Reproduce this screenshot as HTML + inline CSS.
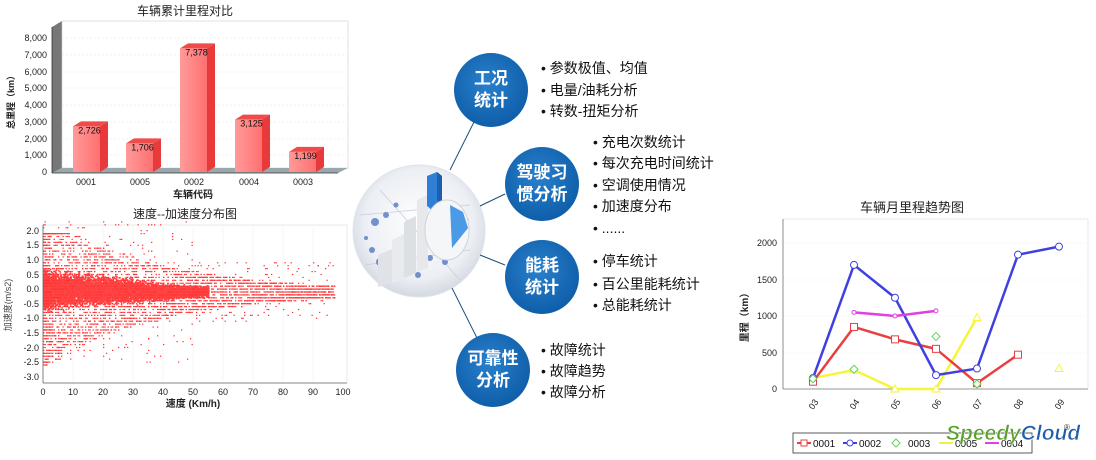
<!DOCTYPE html>
<html><head><meta charset="utf-8">
<style>
html,body{margin:0;padding:0;background:#fff;}
svg{display:block;}
text{font-family:"Liberation Sans","Noto Sans CJK SC",sans-serif;}
</style></head>
<body>
<svg id="s" width="1096" height="460" viewBox="0 0 1096 460" xmlns="http://www.w3.org/2000/svg">
<defs>
<radialGradient id="bc" cx="45%" cy="40%" r="60%"><stop offset="0" stop-color="#2a80cc"/><stop offset="1" stop-color="#0f5ea9"/></radialGradient>
<radialGradient id="disc" cx="50%" cy="45%" r="55%"><stop offset="0" stop-color="#ffffff"/><stop offset="0.75" stop-color="#eceff4"/><stop offset="1" stop-color="#d4d9e2"/></radialGradient>
<linearGradient id="bar" x1="0" x2="1"><stop offset="0" stop-color="#ff9a9a"/><stop offset="1" stop-color="#ff7070"/></linearGradient>
</defs>

<!-- BAR CHART -->
<text x="185" y="15" font-size="12" text-anchor="middle" fill="#222">车辆累计里程对比</text>
<polygon points="52,27 62,21 62,168 52,173" fill="#777"/>
<rect x="62" y="21" width="286" height="147" fill="#fff" stroke="#ccc" stroke-width="0.6"/>
<g stroke="#e4e4e4" stroke-dasharray="2,2" stroke-width="0.6">
<line x1="62" y1="38" x2="348" y2="38"/><line x1="62" y1="55" x2="348" y2="55"/><line x1="62" y1="72" x2="348" y2="72"/><line x1="62" y1="88" x2="348" y2="88"/><line x1="62" y1="105" x2="348" y2="105"/><line x1="62" y1="122" x2="348" y2="122"/><line x1="62" y1="139" x2="348" y2="139"/><line x1="62" y1="155" x2="348" y2="155"/>
</g>
<polygon points="52,173 62,168 348,168 338,173" fill="#9aa8ad"/>
<line x1="52" y1="27" x2="52" y2="173" stroke="#333" stroke-width="0.8"/>
<line x1="52" y1="173" x2="338" y2="173" stroke="#333" stroke-width="0.8"/>
<g font-size="9" fill="#222" text-anchor="end">
<text x="47" y="41">8,000</text><text x="47" y="58">7,000</text><text x="47" y="75">6,000</text><text x="47" y="91">5,000</text><text x="47" y="108">4,000</text><text x="47" y="125">3,000</text><text x="47" y="142">2,000</text><text x="47" y="158">1,000</text><text x="47" y="175">0</text>
</g>
<text transform="translate(14,100) rotate(-90)" font-size="9" font-weight="bold" text-anchor="middle" fill="#222">总里程（km）</text>
<g id="bars"></g>
<g font-size="9" fill="#222" text-anchor="middle">
<text x="86" y="185">0001</text><text x="140" y="185">0005</text><text x="194" y="185">0002</text><text x="249" y="185">0004</text><text x="303" y="185">0003</text>
</g>
<text x="193" y="198" font-size="10" font-weight="bold" text-anchor="middle" fill="#222">车辆代码</text>

<!-- SCATTER -->
<text x="185" y="218" font-size="12" text-anchor="middle" fill="#222">速度--加速度分布图</text>
<rect x="43" y="225" width="304" height="158" fill="#fff" stroke="#ddd" stroke-width="0.6"/>
<g stroke="#eee" stroke-width="0.5">
<line x1="73" y1="225" x2="73" y2="383"/><line x1="103" y1="225" x2="103" y2="383"/><line x1="133" y1="225" x2="133" y2="383"/><line x1="163" y1="225" x2="163" y2="383"/><line x1="193" y1="225" x2="193" y2="383"/><line x1="223" y1="225" x2="223" y2="383"/><line x1="253" y1="225" x2="253" y2="383"/><line x1="283" y1="225" x2="283" y2="383"/><line x1="313" y1="225" x2="313" y2="383"/>
</g>
<g id="sc"></g>
<line x1="43" y1="225" x2="43" y2="383" stroke="#666" stroke-width="0.8"/>
<line x1="43" y1="383" x2="347" y2="383" stroke="#666" stroke-width="0.8"/>
<g font-size="9" fill="#222" text-anchor="end">
<text x="39" y="234">2.0</text><text x="39" y="248">1.5</text><text x="39" y="263">1.0</text><text x="39" y="278">0.5</text><text x="39" y="292">0.0</text><text x="39" y="307">-0.5</text><text x="39" y="321">-1.0</text><text x="39" y="336">-1.5</text><text x="39" y="351">-2.0</text><text x="39" y="365">-2.5</text><text x="39" y="380">-3.0</text>
</g>
<text transform="translate(11,305) rotate(-90)" font-size="9" text-anchor="middle" fill="#444">加速度(m/s2)</text>
<g font-size="9" fill="#222" text-anchor="middle">
<text x="43" y="395">0</text><text x="73" y="395">10</text><text x="103" y="395">20</text><text x="133" y="395">30</text><text x="163" y="395">40</text><text x="193" y="395">50</text><text x="223" y="395">60</text><text x="253" y="395">70</text><text x="283" y="395">80</text><text x="313" y="395">90</text><text x="343" y="395">100</text>
</g>
<text x="193" y="407" font-size="10" font-weight="bold" text-anchor="middle" fill="#222">速度 (Km/h)</text>

<!-- CENTER DISC -->
<circle cx="419" cy="231" r="66" fill="url(#disc)" stroke="#e0e3e8" stroke-width="1"/>
<g stroke="#c9cfdb" stroke-width="0.8" fill="none">
<line x1="360" y1="215" x2="470" y2="205"/><line x1="365" y1="265" x2="470" y2="250"/><line x1="380" y1="190" x2="460" y2="280"/>
</g>
<g fill="#4a6fc0" opacity="0.75">
<circle cx="375" cy="222" r="4"/><circle cx="386" cy="215" r="3"/><circle cx="372" cy="250" r="3"/><circle cx="380" cy="262" r="4"/><circle cx="430" cy="258" r="3"/><circle cx="445" cy="262" r="3"/><circle cx="460" cy="245" r="2.5"/><circle cx="400" cy="273" r="2"/><circle cx="396" cy="205" r="2.5"/><circle cx="466" cy="220" r="2.5"/><circle cx="418" cy="275" r="3"/><circle cx="366" cy="238" r="2"/>
</g>
<polygon points="378,255 392,249 392,283 378,287" fill="#dfe2e7"/>
<polygon points="392,240 404,234 404,278 392,283" fill="#e8eaee"/>
<polygon points="404,222 416,216 416,273 404,278" fill="#dcdfe4"/>
<polygon points="417,200 428,195 428,268 417,272" fill="#e6e8ec"/>
<polygon points="427,176 437,172 442,176 442,205 432,210 427,206" fill="#2f7fd6"/>
<polygon points="437,172 442,176 442,205 437,200" fill="#1b5fb0"/>
<ellipse cx="447" cy="230" rx="22" ry="30" fill="#f5f6f8" stroke="#cfd3da"/>
<polygon points="450,205 463,212 468,228 452,248" fill="#4b9ae6"/>
<!-- connectors -->
<g stroke="#1f4e79" stroke-width="1">
<line x1="474" y1="122" x2="450" y2="170"/>
<line x1="505" y1="194" x2="480" y2="206"/>
<line x1="505" y1="265" x2="480" y2="255"/>
<line x1="478" y1="340" x2="452" y2="288"/>
</g>
<!-- blue circles -->
<g font-size="17" font-weight="bold" fill="#fff" text-anchor="middle">
<circle cx="491" cy="90" r="37" fill="url(#bc)"/>
<text x="491" y="84">工况</text><text x="491" y="106">统计</text>
<circle cx="542" cy="184" r="37" fill="url(#bc)"/>
<text x="542" y="178">驾驶习</text><text x="542" y="200">惯分析</text>
<circle cx="542" cy="277" r="37" fill="url(#bc)"/>
<text x="542" y="271">能耗</text><text x="542" y="293">统计</text>
<circle cx="493" cy="370" r="37" fill="url(#bc)"/>
<text x="493" y="364">可靠性</text><text x="493" y="386">分析</text>
</g>
<g font-size="14" fill="#111">
<text x="541" y="73">• 参数极值、均值</text>
<text x="541" y="95">• 电量/油耗分析</text>
<text x="541" y="116">• 转数-扭矩分析</text>
<text x="593" y="147">• 充电次数统计</text>
<text x="593" y="168">• 每次充电时间统计</text>
<text x="593" y="190">• 空调使用情况</text>
<text x="593" y="211">• 加速度分布</text>
<text x="593" y="233">• ......</text>
<text x="593" y="266">• 停车统计</text>
<text x="593" y="289">• 百公里能耗统计</text>
<text x="593" y="310">• 总能耗统计</text>
<text x="541" y="355">• 故障统计</text>
<text x="541" y="376">• 故障趋势</text>
<text x="541" y="397">• 故障分析</text>
</g>

<!-- LINE CHART -->
<text x="912" y="212" font-size="13" text-anchor="middle" fill="#222">车辆月里程趋势图</text>
<rect x="783" y="219" width="305" height="170" fill="#fff" stroke="#ddd" stroke-width="0.6"/>
<g stroke="#eee" stroke-dasharray="2,2" stroke-width="0.6">
<line x1="783" y1="243" x2="1088" y2="243"/><line x1="783" y1="280" x2="1088" y2="280"/><line x1="783" y1="316" x2="1088" y2="316"/><line x1="783" y1="353" x2="1088" y2="353"/>
</g>
<line x1="783" y1="219" x2="783" y2="389" stroke="#777" stroke-width="0.8"/>
<line x1="783" y1="389" x2="1088" y2="389" stroke="#777" stroke-width="0.8"/>
<g font-size="9" fill="#222" text-anchor="end">
<text x="777" y="246">2000</text><text x="777" y="283">1500</text><text x="777" y="319">1000</text><text x="777" y="356">500</text><text x="777" y="392">0</text>
</g>
<text transform="translate(748,315) rotate(-90)" font-size="10" font-weight="bold" text-anchor="middle" fill="#222">里程（km）</text>
<g font-size="9" fill="#222" text-anchor="middle" id="xl"></g>
<g id="lc"></g>
<rect x="793" y="433" width="239" height="20" fill="#fff" stroke="#333" stroke-width="0.8"/>
<g font-size="10" fill="#111" stroke-width="2">
<line x1="797" y1="443" x2="811" y2="443" stroke="#e84040"/><rect x="801" y="440" width="6" height="6" fill="#fff" stroke="#e84040" stroke-width="1"/><text x="813" y="447">0001</text>
<line x1="843" y1="443" x2="857" y2="443" stroke="#4040e0"/><circle cx="850" cy="443" r="3" fill="#fff" stroke="#4040e0" stroke-width="1"/><text x="859" y="447">0002</text>
<polygon points="896,439 900,443 896,447 892,443" fill="#fff" stroke="#5bd35b" stroke-width="1"/><text x="908" y="447">0003</text>
<line x1="939" y1="443" x2="953" y2="443" stroke="#f0f040"/><text x="955" y="447">0005</text>
<line x1="985" y1="443" x2="999" y2="443" stroke="#e040e0"/><text x="1001" y="447">0004</text>
</g>
<text x="946" y="440" font-size="21" font-weight="bold" font-style="italic" fill="#5aa02c" stroke="#fff" stroke-width="0.6">Speedy<tspan fill="#1f5fa8">Cloud</tspan></text>
<text x="1064" y="430" font-size="8" fill="#333">®</text>
</svg>
<script>
var NS="http://www.w3.org/2000/svg";
function el(p,t,a){var e=document.createElementNS(NS,t);for(var k in a)e.setAttribute(k,a[k]);p.appendChild(e);return e;}
var bg=document.getElementById("bars");
[[73,2726],[126,1706],[180,7378],[235,3125],[289,1199]].forEach(function(b){
 var x=b[0],w=27,y=172-b[1]*0.01675,d=8,u=5;
 el(bg,"polygon",{points:(x+w)+","+y+" "+(x+w+d)+","+(y-u)+" "+(x+w+d)+","+(172-u)+" "+(x+w)+",172",fill:"#e83a3a"});
 el(bg,"polygon",{points:x+","+y+" "+(x+d)+","+(y-u)+" "+(x+w+d)+","+(y-u)+" "+(x+w)+","+y,fill:"#f04a4a"});
 el(bg,"rect",{x:x,y:y,width:w,height:172-y,fill:"url(#bar)"});
 var t=el(bg,"text",{x:x+w/2+3,y:y+7,"font-size":9,"text-anchor":"middle",fill:"#111"});t.textContent=b[1].toLocaleString("en-US");
});
var sc=document.getElementById("sc");var seed=7;
function r(){seed=(seed*16807)%2147483647;return seed/2147483647;}
function g(){return (r()+r()+r()-1.5)/1.5;}
function X(v){return 43+v*3;}function Y(a){return 292-a*29.2;}
// dense cloud via many gaussian points
for(var i=0;i<9000;i++){
 var sp=Math.pow(r(),1.3)*55;
 var h=0.55*Math.max(0.15,1-sp/60)+0.1;
 var a=g()*h*1.3+ (sp<30?0.05:0);
 el(sc,"rect",{x:X(sp),y:Y(a)-0.8,width:1.6,height:1.6,fill:"#f44"});
}
for(var i=0;i<4200;i++){
 var sp=Math.pow(r(),1.6)*97;
 var spread=Math.max(0.25,2.6*Math.exp(-sp/38));
 var a=(r()*2-1)*spread; if(a>2)a=2; if(a<-2.9)a=-2.9+r()*0.1;
 if(r()<0.12){a=(r()*2-1)*(sp<50?2.4:1.0);}
 a=Math.round(a*10)/10;
 var s=Math.round(sp*2)/2;
 el(sc,"rect",{x:X(s),y:Y(a)-0.6,width:1.3,height:1.2,fill:"#f33"});
}
var lc=document.getElementById("lc"),xl=document.getElementById("xl");
function LX(i){return 813+i*41;}function LY(v){return 389-v*0.073;}
["03","04","05","06","07","08","09"].forEach(function(s,i){var t=el(xl,"text",{transform:"translate("+(LX(i)+3)+",406) rotate(-55)"});t.textContent=s;});
function series(data,col,mk,line){
 var seg=[];
 data.forEach(function(d,i){if(d==null){seg.push(null);}else seg.push([LX(i),LY(d)]);});
 if(line){var pts=[];seg.concat([null]).forEach(function(p){if(p)pts.push(p);else{if(pts.length>1)el(lc,"polyline",{points:pts.map(function(q){return q.join(",")}).join(" "),fill:"none",stroke:col,"stroke-width":2.5});pts=[];}});}
 seg.forEach(function(p){if(!p)return;
  if(mk=="s")el(lc,"rect",{x:p[0]-3.5,y:p[1]-3.5,width:7,height:7,fill:"#fff",stroke:col,"stroke-width":1});
  if(mk=="c")el(lc,"circle",{cx:p[0],cy:p[1],r:3.5,fill:"#fff",stroke:col,"stroke-width":1});
  if(mk=="d")el(lc,"polygon",{points:p[0]+","+(p[1]-4)+" "+(p[0]+4)+","+p[1]+" "+p[0]+","+(p[1]+4)+" "+(p[0]-4)+","+p[1],fill:"#fff",stroke:col,"stroke-width":1});
  if(mk=="t")el(lc,"polygon",{points:p[0]+","+(p[1]-4)+" "+(p[0]+4)+","+(p[1]+3)+" "+(p[0]-4)+","+(p[1]+3),fill:"#fff",stroke:col,"stroke-width":1});
  if(mk=="m")el(lc,"circle",{cx:p[0],cy:p[1],r:2,fill:"#fff",stroke:col,"stroke-width":1});
 });
}
series([150,260,0,0,980,null,280],"#f5f53a","t",true);
series([100,850,680,550,80,470,null],"#e84040","s",true);
series([150,1700,1250,190,280,1840,1950],"#4040e0","c",true);
series([null,1050,1000,1070,null,null,null],"#e040e0","m",true);
series([140,270,null,720,70,null,null],"#5bd35b","d",false);
</script>
</body></html>
